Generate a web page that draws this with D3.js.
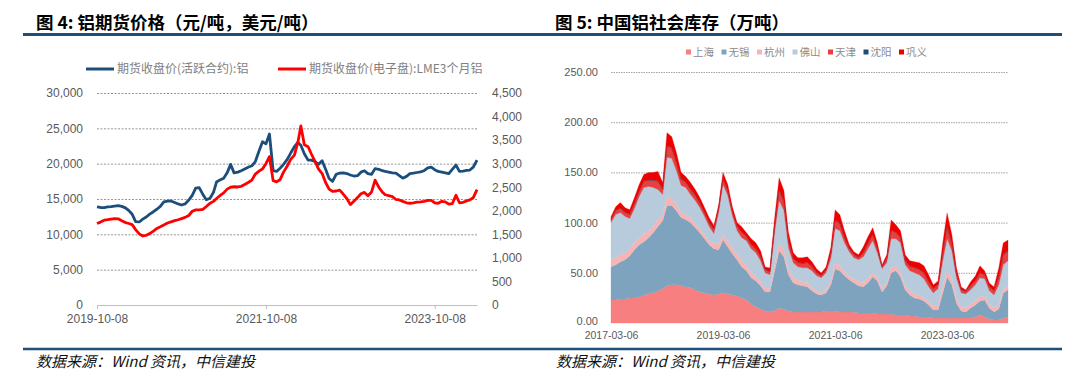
<!DOCTYPE html>
<html><head><meta charset="utf-8">
<script src="https://cdn.jsdelivr.net/npm/d3@7"></script>
<style>body{margin:0;background:#fff;}svg{display:block;}</style>
</head><body>
<svg id="c" width="1080" height="384"></svg>
<script>
// ---------- Figure 4 data: aluminium futures prices ----------
const priceDates = [
"2019-10-08","2019-10-23","2019-11-08","2019-11-23","2019-12-08","2019-12-23",
"2020-01-08","2020-01-23","2020-02-08","2020-02-23","2020-03-08","2020-03-23","2020-04-08","2020-04-23","2020-05-08","2020-05-23","2020-06-08","2020-06-23",
"2020-07-08","2020-07-23","2020-08-08","2020-08-23","2020-09-08","2020-09-23","2020-10-08","2020-10-23","2020-11-08","2020-11-23","2020-12-08","2020-12-23",
"2021-01-08","2021-01-23","2021-02-08","2021-02-23","2021-03-08","2021-03-23","2021-04-08","2021-04-23","2021-05-08","2021-05-23","2021-06-08","2021-06-23",
"2021-07-08","2021-07-23","2021-08-08","2021-08-23","2021-09-08","2021-09-23","2021-10-08","2021-10-23","2021-11-08","2021-11-23","2021-12-08","2021-12-23",
"2022-01-08","2022-01-23","2022-02-08","2022-02-23","2022-03-08","2022-03-23","2022-04-08","2022-04-23","2022-05-08","2022-05-23","2022-06-08","2022-06-23",
"2022-07-08","2022-07-23","2022-08-08","2022-08-23","2022-09-08","2022-09-23","2022-10-08","2022-10-23","2022-11-08","2022-11-23","2022-12-08","2022-12-23",
"2023-01-08","2023-01-23","2023-02-08","2023-02-23","2023-03-08","2023-03-23","2023-04-08","2023-04-23","2023-05-08","2023-05-23","2023-06-08","2023-06-23",
"2023-07-08","2023-07-23","2023-08-08","2023-08-23","2023-09-08","2023-09-23","2023-10-08","2023-10-23","2023-11-08","2023-11-23","2023-12-08","2023-12-23",
"2024-01-08","2024-01-23","2024-02-08","2024-02-23","2024-03-08","2024-03-23","2024-04-08"];
// 期货收盘价(活跃合约):铝  (元/吨, left axis)
const shfeAl = [
13900,13800,13780,13880,13920,14000,14050,13950,13750,13350,
12850,11800,11750,12150,12450,12850,13200,13550,13950,14600,
14700,14720,14500,14300,14150,14300,14850,15500,16550,16600,
15650,14900,15100,15950,17400,17700,17950,18700,19900,18700,
18800,19000,19250,19500,19700,20300,21800,23100,22800,24200,
19000,18900,19350,19900,20600,21500,22400,23000,22600,21400,
20500,20500,20300,19900,20400,19200,17900,17500,18500,18650,
18700,18600,18400,18250,18300,18800,19000,18600,18500,19300,
19200,19000,18900,18800,18700,18650,18300,17950,18200,18600,
18650,18750,18850,19000,19400,19500,19150,18900,18800,18700,
18600,19200,19800,18900,18950,19050,19100,19500,20500];
// 期货收盘价(电子盘):LME3个月铝  (美元/吨, right axis)
const lmeAl = [
1730,1760,1800,1810,1825,1835,1830,1790,1750,1730,
1705,1600,1510,1465,1480,1515,1570,1625,1660,1700,
1740,1765,1790,1810,1835,1860,1900,1990,2020,2020,
2030,2090,2160,2200,2260,2320,2380,2460,2500,2510,
2505,2520,2560,2600,2650,2780,2840,2890,3000,3150,
2640,2615,2660,2820,2950,3090,3180,3450,3800,3400,
3360,3200,3050,2890,2790,2600,2460,2410,2420,2440,
2350,2260,2130,2200,2280,2360,2390,2320,2400,2650,
2500,2400,2340,2320,2300,2240,2230,2200,2170,2160,
2170,2185,2190,2200,2220,2220,2170,2160,2200,2190,
2140,2150,2330,2170,2180,2210,2230,2280,2450];
const priceSeriesNames = ["期货收盘价(活跃合约):铝","期货收盘价(电子盘):LME3个月铝"];
const leftTicks = [0,5000,10000,15000,20000,25000,30000];
const rightTicks = [0,500,1000,1500,2000,2500,3000,3500,4000,4500];
const priceXTicks = ["2019-10-08","2021-10-08","2023-10-08"];

// ---------- Figure 5 data: China aluminium social inventory (万吨) ----------
const invDates = [
"2017-03-06","2017-04-06","2017-05-06","2017-06-06","2017-07-06","2017-08-06","2017-09-06","2017-10-06","2017-11-06","2017-12-06",
"2018-01-06","2018-02-06","2018-03-06","2018-04-06","2018-05-06","2018-06-06","2018-07-06","2018-08-06","2018-09-06","2018-10-06","2018-11-06","2018-12-06",
"2019-01-06","2019-02-06","2019-03-06","2019-04-06","2019-05-06","2019-06-06","2019-07-06","2019-08-06","2019-09-06","2019-10-06","2019-11-06","2019-12-06",
"2020-01-06","2020-02-06","2020-03-06","2020-04-06","2020-05-06","2020-06-06","2020-07-06","2020-08-06","2020-09-06","2020-10-06","2020-11-06","2020-12-06",
"2021-01-06","2021-02-06","2021-03-06","2021-04-06","2021-05-06","2021-06-06","2021-07-06","2021-08-06","2021-09-06","2021-10-06","2021-11-06","2021-12-06",
"2022-01-06","2022-02-06","2022-03-06","2022-04-06","2022-05-06","2022-06-06","2022-07-06","2022-08-06","2022-09-06","2022-10-06","2022-11-06","2022-12-06",
"2023-01-06","2023-02-06","2023-03-06","2023-04-06","2023-05-06","2023-06-06","2023-07-06","2023-08-06","2023-09-06","2023-10-06","2023-11-06","2023-12-06",
"2024-01-06","2024-02-06","2024-03-06","2024-04-06"];
const invSeries = ["上海","无锡","杭州","佛山","天津","沈阳","巩义"];
const shanghai = [23,23,24,24,25,25,26,28,29,30, 32,34,37,38,38,37,36,35,33,31, 30,29,28,29,30,29,28,27,25,23,
  19,16,14,12,11,12,15,14,12,11, 11,11,11,11,11,11,12,12,12,11, 11,11,11,10,10,10,10,9,9,9,
  9,8,8,8,7,7,6,6,6,5, 5,5,5,5,5,5,5,5,6,8, 6,4,3,3,5,6];
const wuxi = [33,35,37,39,42,48,52,53,56,60, 64,68,80,79,74,68,67,65,62,59, 54,49,46,44,53,47,41,36,31,29,
  26,26,23,19,20,40,57,52,36,29, 27,26,25,21,18,17,18,26,42,41, 36,32,29,27,26,30,36,33,22,28,
  41,44,38,25,21,18,18,16,12,8, 8,25,41,33,15,7,6,10,12,14, 17,11,8,11,25,27];
const hangzhou = [7,7,7,7,7,7,7,8,7,6, 7,6,9,7,6,5,5,5,4,4, 4,4,5,6,5,6,6,6,6,6,
  5,4,4,4,3,6,8,7,5,5, 5,4,4,3,3,2,3,4,6,5, 4,3,4,4,4,5,4,4,3,3,
  5,5,4,4,4,4,4,3,3,4, 4,7,6,6,5,4,4,4,4,4, 4,4,4,4,4,3];
const foshan = [37,43,42,36,30,34,41,46,44,39, 30,20,39,40,34,27,27,23,23,21, 18,14,10,31,50,45,32,23,23,24,
  24,24,21,15,14,32,42,39,22,15, 13,14,15,17,15,15,17,22,34,35, 29,25,21,22,26,29,32,24,20,20,
  29,27,30,21,20,21,20,19,15,13, 17,25,32,28,20,14,14,14,16,19, 17,13,13,20,24,26];
const tianjin = [3,4,4,4,4,5,5,6,6,7, 8,5,11,10,8,6,5,5,5,4, 4,4,4,4,5,5,4,4,5,4,
  4,4,4,3,3,7,10,9,7,4, 4,4,5,4,3,2,3,5,8,7, 5,3,3,2,4,5,6,4,2,4,
  8,6,5,4,4,5,5,6,5,4, 4,8,12,7,4,3,2,4,4,5, 4,4,4,8,10,9];
const shenyang = [0.4,0.4,0.4,0.4,0.4,0.4,0.4,0.4,0.4,0.4, 0.4,0.4,0.6,0.6,0.4,0.4,0.4,0.4,0.4,0.4, 0.4,0.4,0.4,0.4,0.4,0.4,0.4,0.4,0.4,0.4,
  0.4,0.4,0.4,0.4,0.4,0.4,0.6,0.4,0.4,0.4, 0.4,0.4,0.4,0.4,0.4,0.4,0.4,0.4,0.6,0.4, 0.4,0.4,0.4,0.4,0.4,0.4,0.4,0.4,0.4,0.4,
  0.6,0.4,0.4,0.4,0.4,0.4,0.4,0.4,0.4,0.4, 0.4,0.4,0.6,0.4,0.4,0.4,0.4,0.4,0.4,0.4, 0.4,0.4,0.4,0.4,0.6,0.6];
const gongyi = [2.5,3.5,5.5,4.5,4.5,5.5,6.5,6.5,7.5,7.5, 9.5,6.5,13,11,9.5,6.5,5.5,6.5,5.5,5.5, 4.5,4.5,3.5,3.5,6.5,5.5,4.5,3.5,5.5,3.5,
  5.5,5.5,5.5,2.5,3.5,7.5,12,10.5,7.5,5.5, 4.5,5.5,5.5,4.5,3.5,2.5,2.5,5.5,10,8.5, 6.5,3.5,2.5,2.5,5.5,6.5,6.5,5.5,1.5,3.5,
  10,7.5,6.5,5.5,5.5,5.5,6.5,6.5,6.5,3.5, 3.5,9.5,13,8.5,5.5,2.5,1.5,3.5,4.5,6.5, 3.5,3.5,3.5,8.5,11,11];
const invYTicks = [0,50,100,150,200,250];
const invXTicks = ["2017-03-06","2019-03-06","2021-03-06","2023-03-06"];

// ---------- styles ----------
const CJK = "'Noto Sans CJK SC', 'Noto Sans', sans-serif";
const NUM = "'Liberation Sans', Arial, sans-serif";
const AXC = "#595959";
const invColors = ["#f77f7f","#7ea3be","#f5b5b5","#b8cbdc","#e8403f","#1f4e79","#ee0000"];

const svg = d3.select("#c");
const parse = d3.timeParse("%Y-%m-%d");
const fmt = d3.timeFormat("%Y-%m-%d");

// ---------- frame ----------
svg.append("text").attr("x",36).attr("y",29).attr("font-family",CJK).attr("font-weight","bold")
  .attr("font-size",17.5).attr("fill","#000").text("图 4: 铝期货价格（元/吨，美元/吨）");
svg.append("text").attr("x",555).attr("y",29).attr("font-family",CJK).attr("font-weight","bold")
  .attr("font-size",17.5).attr("fill","#000").text("图 5: 中国铝社会库存（万吨）");
svg.append("line").attr("x1",23).attr("x2",1062).attr("y1",34.5).attr("y2",34.5).attr("stroke","#1f4e79").attr("stroke-width",3);
svg.append("line").attr("x1",23).attr("x2",1062).attr("y1",349).attr("y2",349).attr("stroke","#1f4e79").attr("stroke-width",2.5);
[36,556].forEach(x=>{
  svg.append("text").attr("x",x).attr("y",367).attr("font-family",CJK).attr("font-style","italic")
    .attr("font-size",15).attr("fill","#111").text("数据来源：Wind 资讯，中信建投");
});

// ---------- Figure 4 ----------
const pDates = priceDates.map(parse);
const xL = d3.scaleTime().domain(d3.extent(pDates)).range([97,477]);
const yL = d3.scaleLinear().domain([0,30000]).range([305,93]);
const yR = d3.scaleLinear().domain([0,4500]).range([305,93]);
const gL = svg.append("g");

// gridlines
gL.append("g").attr("transform","translate(97,0)")
  .call(d3.axisLeft(yL).tickValues(leftTicks.filter(v=>v>0)).tickSize(-381).tickFormat(""))
  .call(g=>g.select(".domain").remove())
  .call(g=>g.selectAll("line").attr("stroke","#7a7a7a").attr("stroke-width",0.8).attr("stroke-dasharray","2,1.5"));
// left axis labels
gL.append("g").attr("transform","translate(97,0)")
  .call(d3.axisLeft(yL).tickValues(leftTicks).tickSize(0).tickPadding(14).tickFormat(d3.format(",")))
  .call(g=>g.select(".domain").remove())
  .call(g=>g.selectAll("text").attr("font-family",NUM).attr("font-size",12).attr("fill",AXC));
// right axis labels
gL.append("g").attr("transform","translate(478,0)")
  .call(d3.axisRight(yR).tickValues(rightTicks).tickSize(0).tickPadding(14).tickFormat(d3.format(",")))
  .call(g=>g.select(".domain").remove())
  .call(g=>g.selectAll("text").attr("font-family",NUM).attr("font-size",12).attr("fill",AXC));
// x axis
gL.append("g").attr("transform","translate(0,305)")
  .call(d3.axisBottom(xL).tickValues(priceXTicks.map(parse)).tickSize(4).tickSizeOuter(0).tickPadding(5).tickFormat(fmt))
  .call(g=>g.select(".domain").attr("stroke","#bfbfbf"))
  .call(g=>g.selectAll("line").attr("stroke","#bfbfbf"))
  .call(g=>g.selectAll("text").attr("font-family",NUM).attr("font-size",12).attr("fill",AXC));

const lineL = d3.line().x((d,i)=>xL(pDates[i])).y(d=>yL(d));
const lineR = d3.line().x((d,i)=>xL(pDates[i])).y(d=>yR(d));
gL.append("path").datum(shfeAl).attr("d",lineL).attr("fill","none").attr("stroke","#1c4e7c").attr("stroke-width",2.8).attr("stroke-linejoin","round");
gL.append("path").datum(lmeAl).attr("d",lineR).attr("fill","none").attr("stroke","#ff0000").attr("stroke-width",2.8).attr("stroke-linejoin","round");

// legend
const legL = [{x:86,c:"#1c4e7c",t:priceSeriesNames[0]},{x:278,c:"#ff0000",t:priceSeriesNames[1]}];
legL.forEach(l=>{
  gL.append("line").attr("x1",l.x).attr("x2",l.x+28).attr("y1",69).attr("y2",69).attr("stroke",l.c).attr("stroke-width",3);
  gL.append("text").attr("x",l.x+31).attr("y",69).attr("dy","0.35em").attr("font-family",CJK).attr("font-size",12)
    .attr("fill","#7f7f7f").text(l.t);
});

// ---------- Figure 5 ----------
const iDates = invDates.map(parse);
const x2 = d3.scaleTime().domain(d3.extent(iDates)).range([611,1008]);
const y2 = d3.scaleLinear().domain([0,250]).range([323,72]);
const gR = svg.append("g");
gR.append("g").attr("transform","translate(611,0)")
  .call(d3.axisLeft(y2).tickValues(invYTicks.filter(v=>v>0)).tickSize(-397).tickFormat(""))
  .call(g=>g.select(".domain").remove())
  .call(g=>g.selectAll("line").attr("stroke","#8a8a8a").attr("stroke-width",0.8).attr("stroke-dasharray","1.5,1"));
gR.append("g").attr("transform","translate(611,0)")
  .call(d3.axisLeft(y2).tickValues(invYTicks).tickSize(0).tickPadding(13).tickFormat(d3.format(".2f")))
  .call(g=>g.select(".domain").remove())
  .call(g=>g.selectAll("text").attr("font-family",NUM).attr("font-size",11).attr("fill",AXC))
  .call(g=>g.selectAll(".tick text").filter(d=>d===0).attr("dy","0.15em"));

const seriesArrays = [shanghai,wuxi,hangzhou,foshan,tianjin,shenyang,gongyi];
const rows = iDates.map((d,i)=>{
  const r = {date:d};
  invSeries.forEach((k,j)=>{ r[k] = seriesArrays[j][i]; });
  return r;
});
const stacked = d3.stack().keys(invSeries)(rows);
const area = d3.area().x(d=>x2(d.data.date)).y0(d=>y2(d[0])).y1(d=>y2(d[1]));
gR.selectAll("path.layer").data(stacked).join("path").attr("class","layer")
  .attr("d",area).attr("fill",(d,i)=>invColors[i]).attr("stroke",(d,i)=>invColors[i]).attr("stroke-width",0.3);

gR.append("g").attr("transform","translate(0,323)")
  .call(d3.axisBottom(x2).tickValues(invXTicks.map(parse)).tickSize(0).tickPadding(9).tickFormat(fmt))
  .call(g=>g.select(".domain").remove())
  .call(g=>g.selectAll("text").attr("font-family",NUM).attr("font-size",10.5).attr("fill",AXC));

// legend
let lx = 686;
invSeries.forEach((k,i)=>{
  gR.append("rect").attr("x",lx).attr("y",49.5).attr("width",5).attr("height",5).attr("fill",invColors[i]);
  gR.append("text").attr("x",lx+7).attr("y",52).attr("dy","0.35em").attr("font-family",CJK).attr("font-size",10.5)
    .attr("fill","#8c8c8c").text(k);
  lx += 35.5;
});
</script>
</body></html>
